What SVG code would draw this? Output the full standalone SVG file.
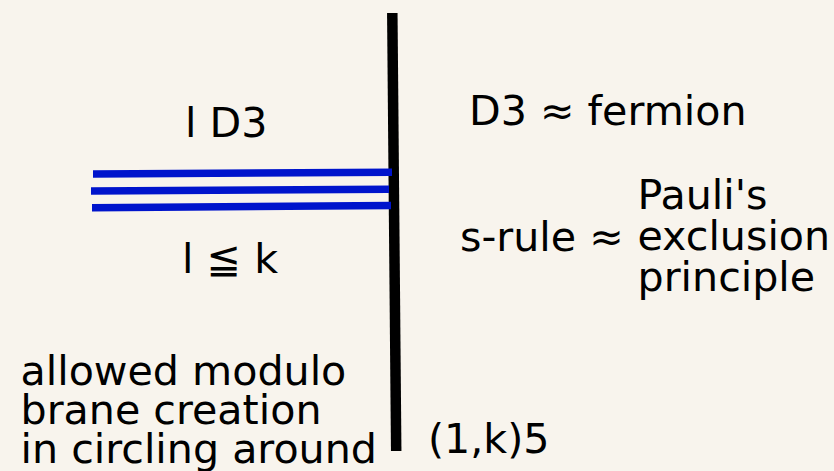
<svg xmlns="http://www.w3.org/2000/svg" width="834" height="471" viewBox="0 0 834 471">
<style>
.t{font-family:"DejaVu Sans","Noto Sans",sans-serif;font-size:41.2px;fill:#000}
.d3{stroke:#0014cc;stroke-width:7.5;fill:none}
</style>
<rect width="834" height="471" fill="#f8f4ed"/>
<g id="branes">
<g id="fivebrane"><line x1="392.3" y1="13" x2="396.2" y2="451" stroke="#000" stroke-width="10.5"/></g>
<g id="d3-branes">
<line class="d3" x1="93" y1="174" x2="392" y2="172.3"/>
<line class="d3" x1="91" y1="191.1" x2="389" y2="189.3"/>
<line class="d3" x1="92" y1="207.7" x2="391" y2="205.5"/>
</g>
</g>
<g id="label-lD3"><text class="t" x="185" y="137">l D3</text></g>
<g id="label-lk"><text class="t" x="182" y="273">l ≦ k</text></g>
<g id="label-fermion"><text class="t" x="469" y="124.5">D3 ≈ fermion</text></g>
<g id="label-srule"><text class="t" x="460" y="251">s-rule ≈</text></g>
<g id="label-pauli"><text class="t" x="637.5" y="208.5">Pauli's<tspan x="637.5" y="250">exclusion</tspan><tspan x="637.5" y="291">principle</tspan></text></g>
<g id="label-allowed"><text class="t" x="20.5" y="385">allowed modulo<tspan x="20.5" y="424">brane creation</tspan><tspan x="20.5" y="463">in circling around</tspan></text></g>
<g id="label-15"><text class="t" x="428" y="453">(1,k)5</text></g>
</svg>
